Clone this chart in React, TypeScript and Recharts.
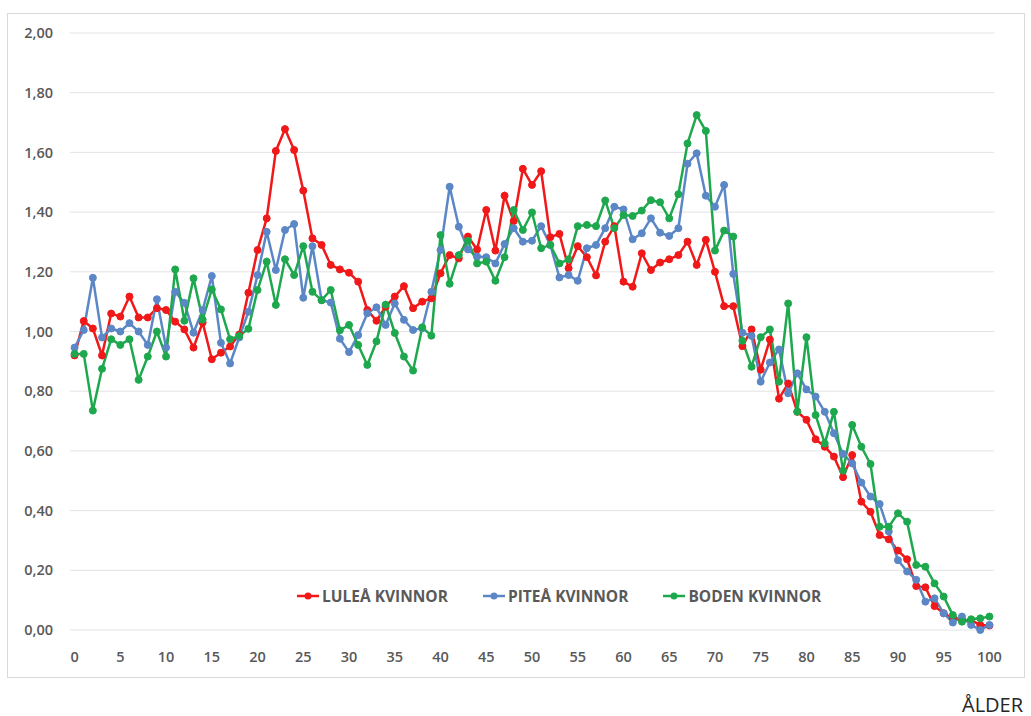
import React from 'react';
import { LineChart, Line, XAxis, YAxis, CartesianGrid } from 'recharts';

// Ages 0..100
const ages: number[] = Array.from({ length: 101 }, (_, i) => i);

const lulea: number[] = [
  0.92, 1.035, 1.01, 0.92, 1.06, 1.05, 1.117, 1.047, 1.047, 1.078,
  1.072, 1.033, 1.007, 0.946, 1.03, 0.907, 0.929, 0.95, 0.99, 1.13,
  1.273, 1.379, 1.605, 1.678, 1.608, 1.472, 1.312, 1.29, 1.223, 1.208,
  1.197, 1.167, 1.072, 1.036, 1.083, 1.117, 1.152, 1.078, 1.1, 1.111,
  1.195, 1.256, 1.245, 1.318, 1.275, 1.407, 1.271, 1.455, 1.37, 1.545,
  1.491, 1.537, 1.316, 1.327, 1.212, 1.286, 1.249, 1.188, 1.301, 1.353,
  1.167, 1.15, 1.262, 1.206, 1.231, 1.242, 1.256, 1.301, 1.223, 1.307,
  1.2, 1.085, 1.085, 0.951, 1.007, 0.872, 0.973, 0.775, 0.826, 0.731,
  0.704, 0.639, 0.614, 0.581, 0.512, 0.586, 0.43, 0.396, 0.318, 0.304,
  0.266, 0.237, 0.147, 0.143, 0.08, 0.056, 0.039, 0.033, 0.033, 0.017,
  0.015,
];

const pitea: number[] = [
  0.946, 1.005, 1.18, 0.98, 1.01, 1.0, 1.028, 1.0, 0.955, 1.108,
  0.946, 1.133, 1.096, 0.996, 1.072, 1.186, 0.962, 0.893, 0.98, 1.066,
  1.189, 1.334, 1.206, 1.34, 1.36, 1.113, 1.286, 1.105, 1.097, 0.976,
  0.931, 0.988, 1.061, 1.081, 1.022, 1.094, 1.039, 1.005, 1.011, 1.133,
  1.273, 1.485, 1.351, 1.275, 1.251, 1.249, 1.228, 1.293, 1.346, 1.301,
  1.304, 1.353, 1.29, 1.181, 1.189, 1.17, 1.279, 1.29, 1.346, 1.418,
  1.409, 1.309, 1.329, 1.379, 1.331, 1.32, 1.346, 1.562, 1.597, 1.455,
  1.418, 1.491, 1.193, 0.996, 0.985, 0.832, 0.896, 0.94, 0.793, 0.86,
  0.806, 0.782, 0.731, 0.659, 0.59, 0.558, 0.494, 0.447, 0.422, 0.33,
  0.234, 0.196, 0.168, 0.095, 0.106, 0.056, 0.025, 0.045, 0.017, 0.0,
  0.017,
];

const boden: number[] = [
  0.925, 0.925, 0.735, 0.875, 0.974, 0.955, 0.974, 0.838, 0.916, 1.0,
  0.916, 1.208, 1.036, 1.178, 1.04, 1.141, 1.074, 0.974, 0.985, 1.009,
  1.139, 1.234, 1.089, 1.242, 1.189, 1.286, 1.133, 1.105, 1.139, 1.004,
  1.022, 0.955, 0.888, 0.967, 1.09, 0.995, 0.916, 0.869, 1.014, 0.986,
  1.323, 1.16, 1.256, 1.304, 1.228, 1.234, 1.17, 1.249, 1.407, 1.34,
  1.399, 1.279, 1.29, 1.228, 1.242, 1.353, 1.357, 1.353, 1.439, 1.346,
  1.39, 1.387, 1.405, 1.44, 1.433, 1.379, 1.46, 1.63, 1.725, 1.672,
  1.271, 1.338, 1.318, 0.969, 0.882, 0.981, 1.007, 0.832, 1.094, 0.731,
  0.981, 0.72, 0.625, 0.731, 0.534, 0.687, 0.614, 0.556, 0.346, 0.346,
  0.391, 0.363, 0.218, 0.212, 0.156, 0.112, 0.05, 0.028, 0.036, 0.039,
  0.045,
];

const xTicks = [0, 5, 10, 15, 20, 25, 30, 35, 40, 45, 50, 55, 60, 65, 70, 75, 80, 85, 90, 95, 100];
const yTicks = [0, 0.2, 0.4, 0.6, 0.8, 1.0, 1.2, 1.4, 1.6, 1.8, 2.0];

const series = [
  { key: 'lulea', name: 'LULEÅ KVINNOR', color: '#F01818' },
  { key: 'pitea', name: 'PITEÅ KVINNOR', color: '#5B87C6' },
  { key: 'boden', name: 'BODEN KVINNOR', color: '#1EA84E' },
];

const data = ages.map((age, i) => ({
  age,
  lulea: lulea[i],
  pitea: pitea[i],
  boden: boden[i],
}));

const FONT = '"Open Sans", "Liberation Sans", sans-serif';

const formatComma = (v: number): string => v.toFixed(2).replace('.', ',');

const ChartLegend: React.FC = () => (
  <div
    style={{
      position: 'absolute',
      left: 296,
      top: 585,
      display: 'flex',
      alignItems: 'center',
      fontFamily: FONT,
    }}
  >
    {series.map((s, i) => (
      <div
        key={s.key}
        style={{ display: 'flex', alignItems: 'center', marginRight: i < series.length - 1 ? 34 : 0 }}
      >
        <svg width={24} height={10} style={{ marginRight: 2 }}>
          <line x1={1} y1={5} x2={23} y2={5} stroke={s.color} strokeWidth={2.5} />
          <circle cx={12} cy={5} r={3.5} fill={s.color} />
        </svg>
        <span style={{ color: '#595959', fontSize: 15.5, fontWeight: 700 }}>{s.name}</span>
      </div>
    ))}
  </div>
);

const App: React.FC = () => {
  return (
    <div style={{ position: 'absolute', left: 0, top: 0, width: 1031, height: 716, background: '#fff' }}>
      <div
        style={{
          position: 'absolute',
          left: 7,
          top: 13,
          width: 1016,
          height: 663,
          border: '1px solid #d9d9d9',
        }}
      />
      <div style={{ position: 'absolute', left: 0, top: 0 }}>
        <LineChart
          width={1031}
          height={716}
          data={data}
          margin={{ top: 33, right: 37, left: 10, bottom: 56 }}
        >
          <CartesianGrid vertical={false} stroke="#e3e3e3" strokeWidth={1} />
          <XAxis
            dataKey="age"
            type="number"
            domain={[-0.5, 100.5]}
            ticks={xTicks}
            interval={0}
            axisLine={false}
            tickLine={false}
            tickSize={0}
            tickMargin={22}
            height={30}
            tick={{ fill: '#595959', fontSize: 14.5, fontFamily: FONT, fontWeight: 600 }}
          />
          <YAxis
            type="number"
            domain={[0, 2]}
            ticks={yTicks}
            interval={0}
            width={60}
            axisLine={false}
            tickLine={false}
            tickSize={0}
            tickMargin={17}
            tickFormatter={formatComma}
            tick={{ fill: '#595959', fontSize: 14.5, fontFamily: FONT, fontWeight: 600 }}
          />
          {series.map((s) => (
            <Line
              key={s.key}
              type="linear"
              dataKey={s.key}
              name={s.name}
              stroke={s.color}
              strokeWidth={2.5}
              dot={{ r: 3.5, fill: s.color, stroke: s.color, strokeWidth: 1 }}
              isAnimationActive={false}
            />
          ))}
        </LineChart>
      </div>
      <ChartLegend />
      <div
        style={{
          position: 'absolute',
          left: 962,
          top: 691,
          fontFamily: FONT,
          fontSize: 20,
          color: '#262626',
        }}
      >
        ÅLDER
      </div>
    </div>
  );
};

export default App;
